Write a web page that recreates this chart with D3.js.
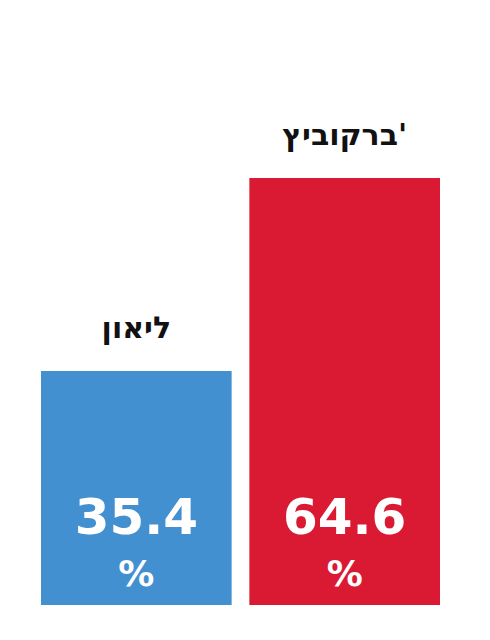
<!DOCTYPE html>
<html><head><meta charset="utf-8">
<script src="https://cdn.jsdelivr.net/npm/d3@7"></script>
<style>body{margin:0;background:#fff}</style></head>
<body><svg id="c" width="490" height="640"></svg>
<script>
const names = ["ליאון", "ברקוביץ'"];
const values = [35.4, 64.6];
const colors = ["#4390d1", "#d91a32"];
const svg = d3.select("#c");
const x = d3.scaleBand().domain(names).range([41, 440]).paddingInner(0.085);
const y = d3.scaleLinear().domain([0, 64.6]).range([605, 178]);
const g = svg.selectAll("g").data(names).enter().append("g");
g.append("rect").attr("x", d => x(d)).attr("width", x.bandwidth())
  .attr("y", (d, i) => y(values[i])).attr("height", (d, i) => 605 - y(values[i]))
  .attr("fill", (d, i) => colors[i]);
g.append("text").attr("x", d => x(d) + x.bandwidth() / 2).attr("y", (d, i) => y(values[i]) - 33)
  .attr("text-anchor", "middle").attr("font-family", "DejaVu Sans").attr("font-weight", "bold")
  .attr("font-size", 30).attr("fill", "#111").text(d => d);
g.append("text").attr("x", d => x(d) + x.bandwidth() / 2).attr("y", 534)
  .attr("text-anchor", "middle").attr("font-family", "DejaVu Sans").attr("font-weight", "bold")
  .attr("font-size", 50).attr("fill", "#fff").text((d, i) => values[i].toFixed(1));
g.append("text").attr("x", d => x(d) + x.bandwidth() / 2).attr("y", 586)
  .attr("text-anchor", "middle").attr("font-family", "DejaVu Sans").attr("font-weight", "bold")
  .attr("font-size", 36).attr("fill", "#fff").text("%");
</script></body></html>
